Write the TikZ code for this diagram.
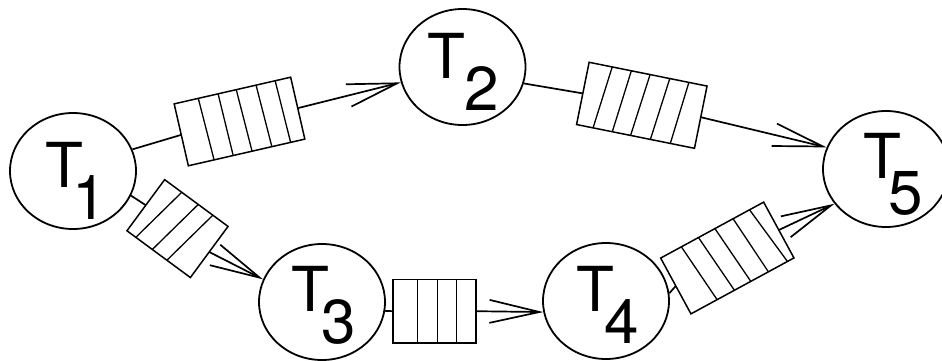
\documentclass[tikz,border=0pt]{standalone}
\usepackage{fontspec}
\setmainfont{TeX Gyre Heros}
\usetikzlibrary{shapes.geometric,arrows.meta,calc}
\newcommand{\qlines}[2]{\foreach \a/\b in {#2}{\draw[qline] ($(#1.north west)!\a!(#1.north east)$) -- ($(#1.south west)!\b!(#1.south east)$);}}
\begin{document}
\begin{tikzpicture}[x=1pt,y=-1pt,
  tnode/.style={ellipse,draw,line width=1.8pt,minimum width=126pt,minimum height=116pt,inner sep=0pt},
  lbl/.style={anchor=base west,inner sep=0pt,font=\fontsize{62}{62}\selectfont},
  qbox/.style={rectangle,draw,fill=white,line width=1.5pt,inner sep=0pt,outer sep=0pt,minimum height=63.5pt},
  qline/.style={line width=1.3pt},
  conn/.style={line width=1.7pt},
  arr/.style={conn,-{Straight Barb[length=50pt,width=23pt]}}]
\useasboundingbox (0,0) rectangle (942,361);
% tasks
\node[tnode] (t1) at (73,171) {};
\node[tnode] (t2) at (462.5,67) {};
\node[tnode] (t3) at (322,302) {};
\node[tnode] (t4) at (606,301) {};
\node[tnode] (t5) at (886,169) {};
% labels
\node[lbl] (l1) at (44.8,187) {T\kern-10.5pt\lower32pt\hbox{1}};
\node[lbl] (l2) at (426.8,78) {T\kern-0.3pt\lower32pt\hbox{2}};
\node[lbl] (l3) at (290.8,311) {T\kern-7.4pt\lower32pt\hbox{3}};
\node[lbl] (l4) at (575.8,311) {T\kern-9.2pt\lower32pt\hbox{4}};
\node[lbl] (l5) at (862.8,178) {T\kern-12.7pt\lower36pt\hbox{5}};
% queues
\node[qbox,minimum width=119.5pt,rotate=12.9] (q12) at (239.5,121.5) {};
\node[qbox,minimum width=78.8pt,rotate=-36.4] (q13) at (177.5,228.6) {};
\node[qbox,minimum width=120.3pt,rotate=-11.4] (q24) at (641.8,105.3) {};
\node[qbox,minimum width=82.9pt] (q34) at (434.5,311.2) {};
\node[qbox,minimum width=117.2pt,rotate=28.5] (q45) at (727.3,258) {};
\qlines{q12}{0.207/0.221,0.377/0.385,0.533/0.547,0.703/0.717,0.867/0.878}
\qlines{q13}{0.27/0.14,0.53/0.40,0.76/0.63}
\qlines{q24}{0.196/0.140,0.358/0.303,0.517/0.458,0.684/0.626,0.846/0.795}
\qlines{q34}{0.296/0.296,0.538/0.538,0.763/0.763}
\qlines{q45}{0.201/0.254,0.367/0.422,0.527/0.581,0.703/0.752,0.863/0.937}
% connectors
\draw[conn] (t1.20) -- (q12.west);
\draw[arr] (q12.east) -- (t2.194);
\draw[conn] (t1.337) -- (q13.west);
\draw[arr] (q13.east) -- (t3.159);
\draw[conn] (t2.345) -- (q24.west);
\draw[arr] (q24.east) -- (t5.160);
\draw[conn] (t3.352) -- (q34.west);
\draw[arr] (q34.east) -- (t4.190);
\draw[conn] (t4.7) -- (q45.west);
\draw[arr] (q45.east) -- (t5.214);
\end{tikzpicture}
\end{document}
